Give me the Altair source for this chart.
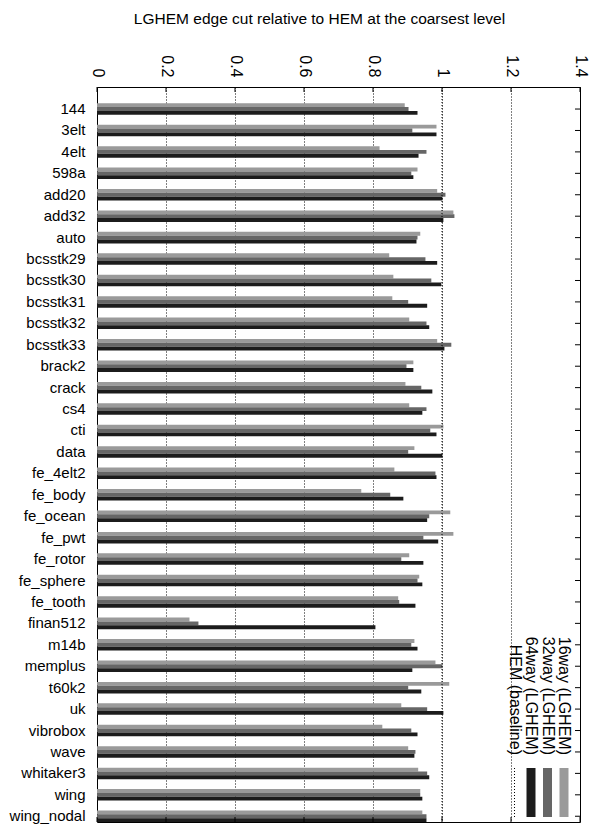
import altair as alt
import pandas as pd

categories = ["144", "3elt", "4elt", "598a", "add20", "add32", "auto", "bcsstk29",
              "bcsstk30", "bcsstk31", "bcsstk32", "bcsstk33", "brack2", "crack", "cs4",
              "cti", "data", "fe_4elt2", "fe_body", "fe_ocean", "fe_pwt", "fe_rotor",
              "fe_sphere", "fe_tooth", "finan512", "m14b", "memplus", "t60k2", "uk",
              "vibrobox", "wave", "whitaker3", "wing", "wing_nodal"]
lghem16 = [0.892, 0.984, 0.819, 0.929, 0.986, 1.033, 0.937, 0.847, 0.859, 0.856,
           0.905, 0.986, 0.917, 0.894, 0.905, 1.004, 0.920, 0.862, 0.766, 1.024,
           1.033, 0.905, 0.934, 0.873, 0.268, 0.920, 0.981, 1.021, 0.882, 0.827,
           0.902, 0.931, 0.937, 0.943]
lghem32 = [0.903, 0.914, 0.955, 0.911, 1.010, 1.036, 0.929, 0.952, 0.969, 0.902,
           0.955, 1.027, 0.897, 0.940, 0.955, 0.966, 0.902, 0.981, 0.850, 0.963,
           0.946, 0.882, 0.929, 0.876, 0.294, 0.911, 1.001, 0.902, 0.957, 0.911,
           0.923, 0.957, 0.937, 0.955]
lghem64 = [0.929, 0.984, 0.932, 0.917, 1.001, 1.004, 0.926, 0.986, 0.998, 0.957,
           0.963, 1.007, 0.917, 0.972, 0.943, 0.984, 1.001, 0.984, 0.888, 0.957,
           0.989, 0.946, 0.943, 0.923, 0.807, 0.929, 0.914, 0.940, 1.004, 0.929,
           0.920, 0.963, 0.943, 0.955]
series_names = ["16way (LGHEM)", "32way (LGHEM)", "64way (LGHEM)"]
series_colors = ["#9a9a9a", "#666666", "#1c1c1c"]
baseline_name = "HEM (baseline)"
baseline_value = 1.0
x_ticks = [0, 0.2, 0.4, 0.6, 0.8, 1.0, 1.2, 1.4]
title_text = "LGHEM edge cut relative to HEM at the coarsest level"

FONT = "Liberation Sans"
W, H = 483, 735

rows = []
for i, c in enumerate(categories):
    for s, vals in zip(series_names, [lghem16, lghem32, lghem64]):
        rows.append({"graph": c, "series": s, "ratio": vals[i]})
df = pd.DataFrame(rows)

xscale = alt.Scale(domain=[0, 1.4], nice=False, zero=True)
yscale = alt.Scale(domain=categories, paddingInner=0.463, paddingOuter=0.38, align=1)

bars = alt.Chart(df).mark_bar().encode(
    x=alt.X("ratio:Q", scale=xscale, title=None,
            axis=alt.Axis(orient="top", values=x_ticks, format="~g", labelAngle=90,
                          labelAlign="right", labelBaseline="middle", labelPadding=10,
                          labelFont=FONT, labelFontSize=16, labelColor="#000",
                          ticks=False, domain=False, grid=True, gridDash=[1, 2],
                          gridColor="#000", gridOpacity=1, gridWidth=1)),
    y=alt.Y("graph:N", scale=yscale, sort=categories, title=None,
            axis=alt.Axis(orient="left", ticks=False, domain=False, labelPadding=12,
                          labelFont=FONT, labelFontSize=15, labelColor="#000")),
    yOffset=alt.YOffset("series:N", sort=series_names,
                        scale=alt.Scale(domain=series_names, paddingInner=0, paddingOuter=0)),
    color=alt.Color("series:N", scale=alt.Scale(domain=series_names, range=series_colors),
                    legend=None),
)

tick_df = pd.DataFrame({"t": x_ticks})
top_ticks = alt.Chart(tick_df).mark_rule(color="#000", strokeWidth=1).encode(
    x=alt.X("t:Q", scale=xscale), y=alt.value(0), y2=alt.value(5))
bottom_ticks = alt.Chart(tick_df).mark_rule(color="#000", strokeWidth=1).encode(
    x=alt.X("t:Q", scale=xscale), y=alt.value(H - 5), y2=alt.value(H))

cat_df = pd.DataFrame({"graph": categories})
right_ticks = alt.Chart(cat_df).mark_rule(color="#000", strokeWidth=1).encode(
    y=alt.Y("graph:N", scale=yscale, sort=categories), x=alt.value(W - 5), x2=alt.value(W))

base_df = pd.DataFrame({"b": [baseline_value]})
base_rule = alt.Chart(base_df).mark_rule(color="#000", strokeWidth=1, strokeDash=[1, 2]).encode(
    x=alt.X("b:Q", scale=xscale))

# rotated legend drawn inside the plot, bottom right
one = pd.DataFrame({"k": [0]})
legend_layers = []
labels = series_names + [baseline_name]
x0 = 467
for i, lab in enumerate(labels):
    lx = x0 - 16.5 * i
    legend_layers.append(
        alt.Chart(one).mark_text(text=lab, angle=90, align="right", baseline="middle",
                                 font=FONT, fontSize=16, color="#000").encode(
            x=alt.value(lx), y=alt.value(668)))
    if i < len(series_names):
        legend_layers.append(
            alt.Chart(one).mark_rect(color=series_colors[i]).encode(
                x=alt.value(lx - 4.5), x2=alt.value(lx + 4.5),
                y=alt.value(681), y2=alt.value(730)))
    else:
        legend_layers.append(
            alt.Chart(one).mark_rule(color="#000", strokeWidth=1, strokeDash=[1, 2]).encode(
                x=alt.value(lx), y=alt.value(681), y2=alt.value(730)))

chart = alt.layer(bars, base_rule, top_ticks, bottom_ticks, right_ticks, *legend_layers).properties(
    width=W, height=H,
    title=alt.TitleParams(text=title_text, font=FONT, fontSize=15.5, fontWeight="normal",
                          color="#000", anchor="middle", frame="group", dx=-19, offset=27),
    autosize=alt.AutoSizeParams(type="none"),
    padding={"left": 89, "top": 79, "right": 10, "bottom": 2},
).configure_view(stroke="#000", strokeWidth=1)

chart.save("out.html", embed_options={"renderer": "svg", "actions": False})
